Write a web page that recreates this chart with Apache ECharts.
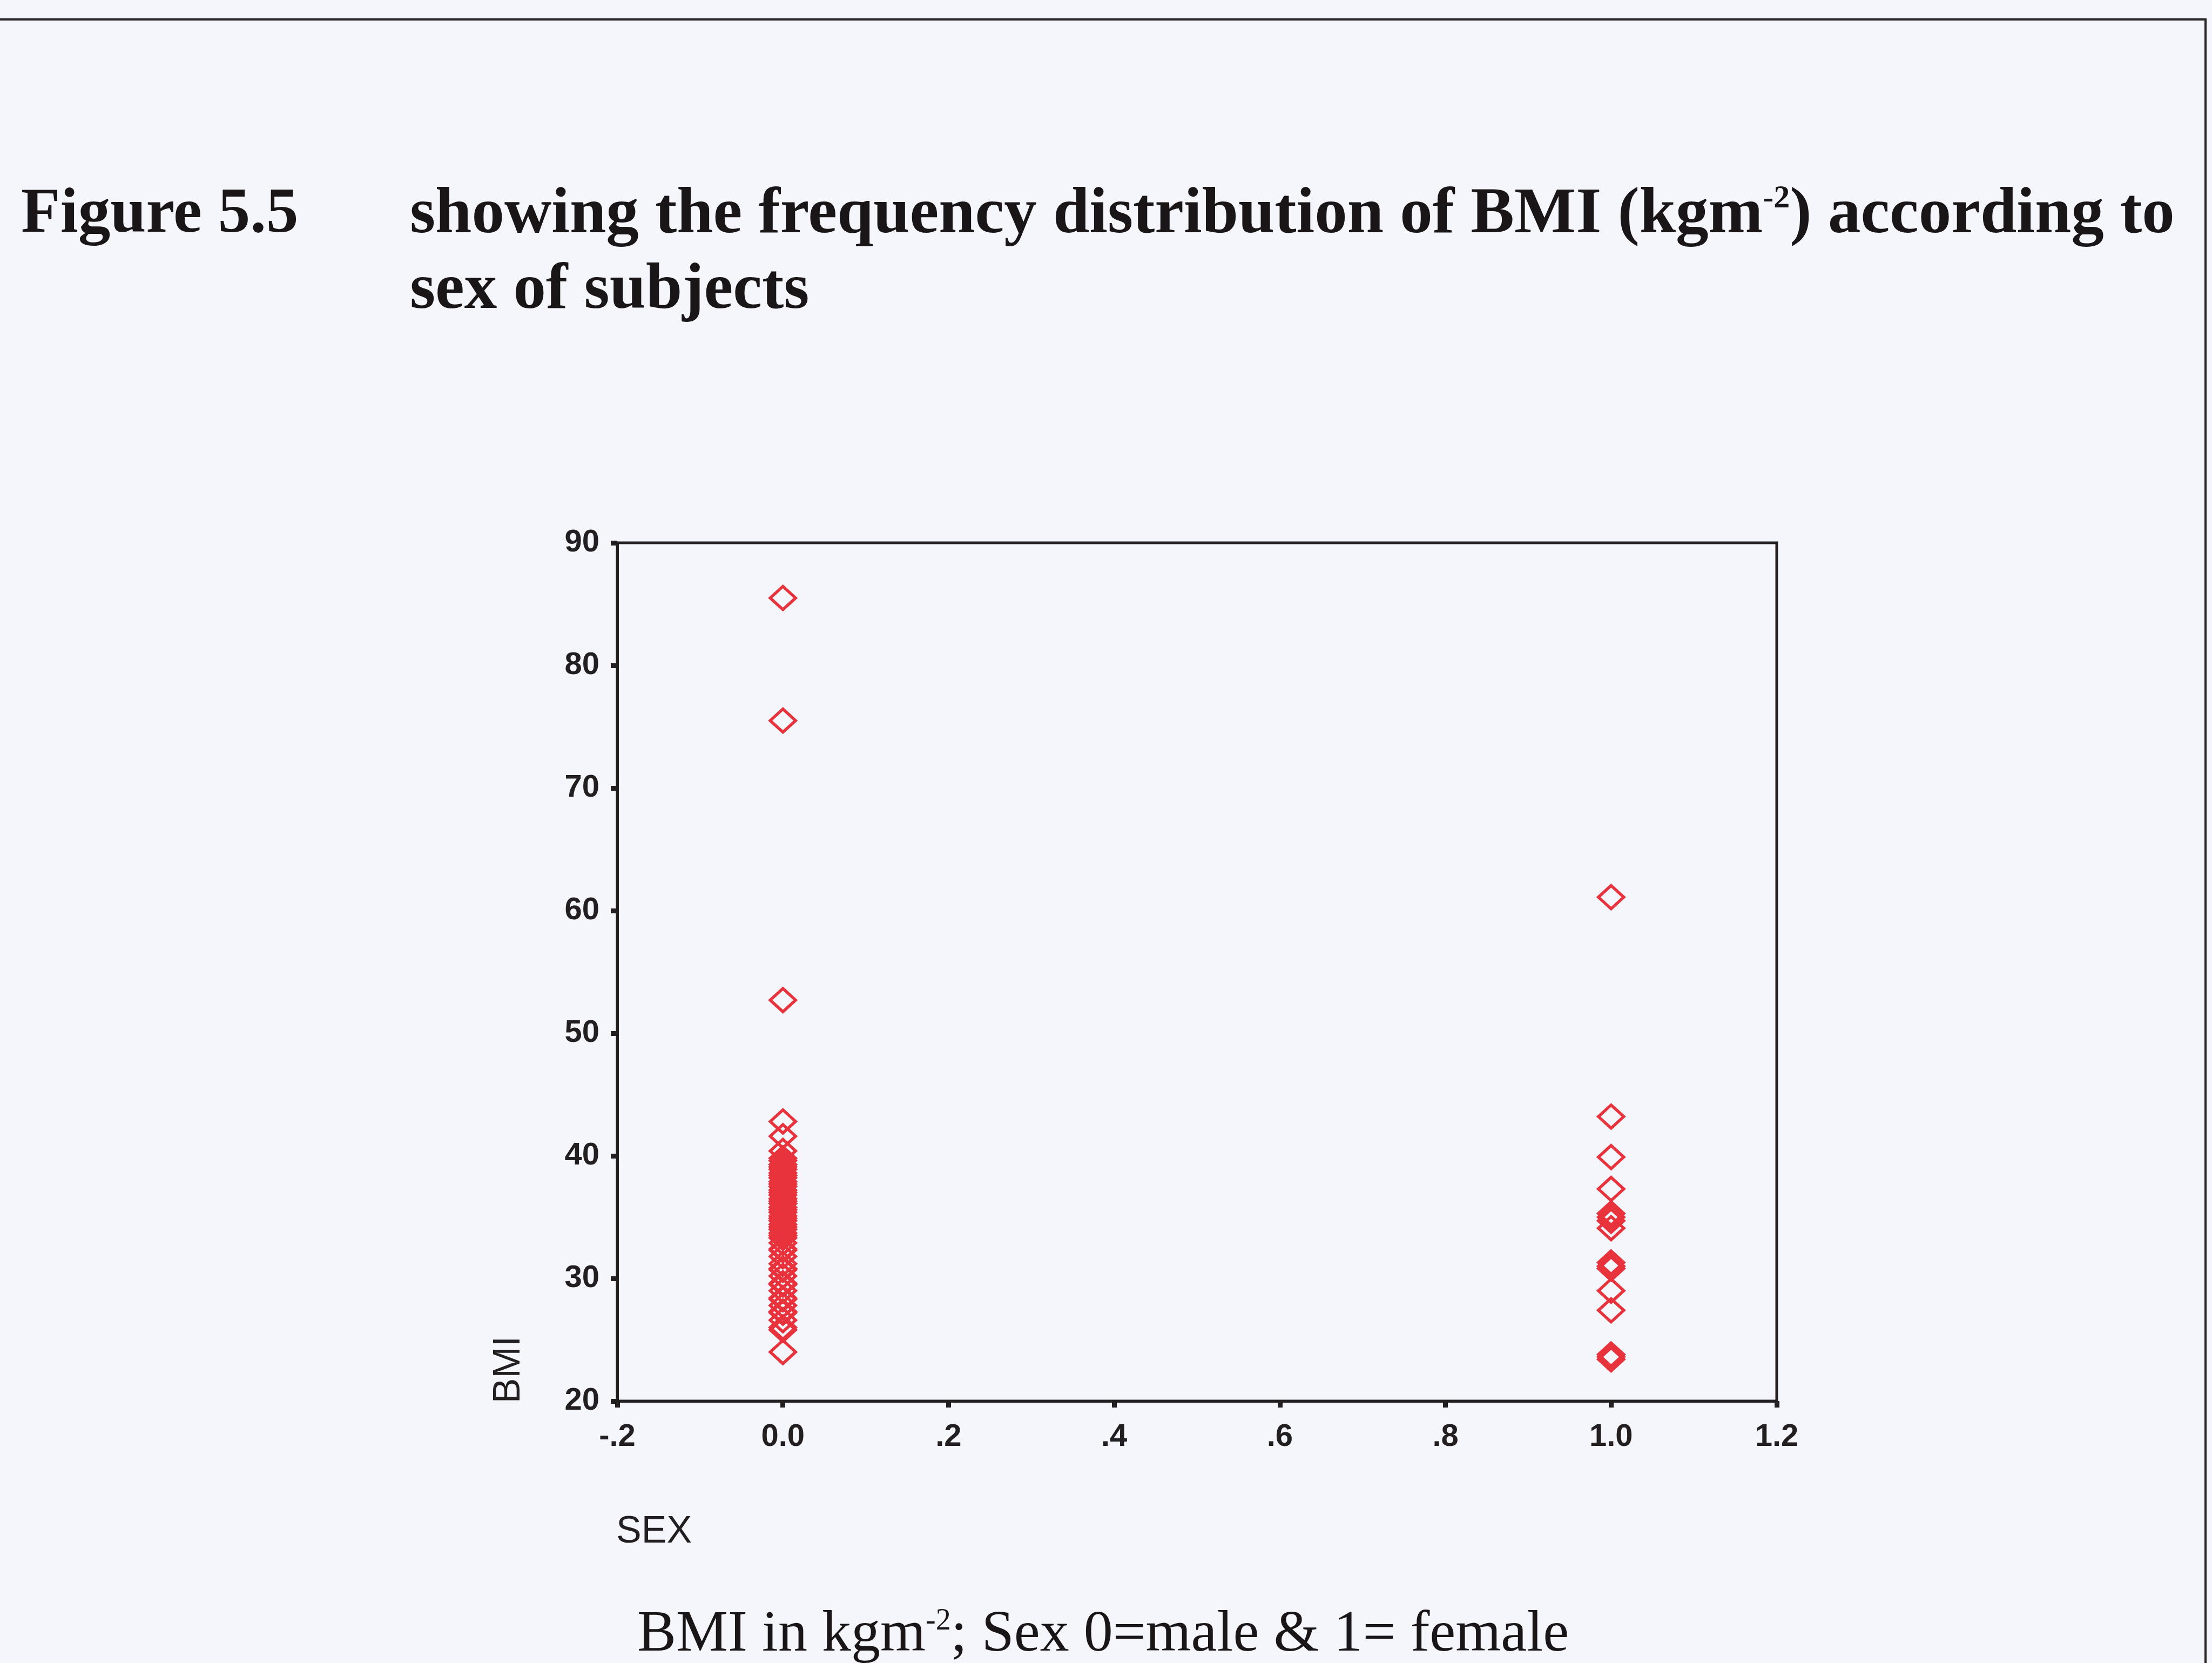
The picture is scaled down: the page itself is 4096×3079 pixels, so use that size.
<!DOCTYPE html>
<html>
<head>
<meta charset="utf-8">
<script src="https://cdn.jsdelivr.net/npm/echarts@6/dist/echarts.min.js"></script>
<style>
  html, body { margin: 0; padding: 0; background: #f4f6fb; }
  #chart { width: 4096px; height: 3079px; }
</style>
</head>
<body>
<div id="chart"></div>
<script>
// BMI values (kg/m^2) by sex: 0 = male, 1 = female
const sexCodes = [0, 1];
const maleBMI = [85.5, 75.5, 52.7, 42.8, 41.6, 40.4,
  39.8, 39.6, 39.3, 39.1, 38.9, 38.6, 38.4, 38.2, 37.9, 37.7, 37.5, 37.2, 37.0, 36.8,
  36.5, 36.3, 36.1, 35.8, 35.6, 35.4, 35.1, 34.9, 34.7, 34.4, 34.2, 34.0, 33.7, 33.5,
  33.3, 32.9, 32.4, 32.3, 31.8, 31.2, 30.8, 30.7, 30.2, 29.6, 29.5, 29.0, 28.4, 28.3,
  27.8, 27.3, 27.2, 26.6, 26.0, 25.8, 24.0];
const femaleBMI = [61.1, 43.2, 39.9, 37.3, 35.3, 35.0, 34.7, 34.1, 31.3, 31.0, 30.8,
  29.0, 27.4, 23.8, 23.6, 23.4];

// axis ticks
const xTickLabels = ['-.2', '0.0', '.2', '.4', '.6', '.8', '1.0', '1.2'];
const xMin = -0.2, xMax = 1.2, xStep = 0.2;
const yMin = 20, yMax = 90, yStep = 10;

const INK = '#231f20';
const RED = '#e8333d';
const SERIF = '"Liberation Serif", "Times New Roman", serif';
const SANS = '"Liberation Sans", Arial, sans-serif';

const pairs = (code, values) => values.map(v => [code, v]);

const chart = echarts.init(document.getElementById('chart'), null, { renderer: 'canvas' });

const markerStyle = {
  type: 'scatter',
  symbol: 'diamond',
  symbolSize: [47, 43],
  clip: false,
  itemStyle: { color: 'rgba(0,0,0,0)', borderColor: RED, borderWidth: 5.5, opacity: 1 },
  emphasis: { disabled: true }
};

const axisCommon = {
  type: 'value',
  axisLine: { show: true, onZero: false, lineStyle: { color: INK, width: 5 } },
  axisTick: { show: true, inside: false, length: 12, lineStyle: { color: INK, width: 9 } },
  splitLine: { show: false }
};

chart.setOption({
  animation: false,
  backgroundColor: '#f4f6fb',
  grid: {
    left: 1143, top: 1005, width: 2147, height: 1589,
    show: true, borderColor: INK, borderWidth: 5, backgroundColor: 'transparent'
  },
  xAxis: Object.assign({}, axisCommon, {
    min: xMin, max: xMax, interval: xStep,
    axisLabel: {
      margin: 38, color: INK, fontFamily: SANS, fontWeight: 'bold', fontSize: 58,
      formatter: v => xTickLabels[Math.round((v - xMin) / xStep)]
    }
  }),
  yAxis: Object.assign({}, axisCommon, {
    min: yMin, max: yMax, interval: yStep,
    axisLabel: { margin: 33, color: INK, fontFamily: SANS, fontWeight: 'bold', fontSize: 58 }
  }),
  series: [
    Object.assign({ name: 'male', data: pairs(sexCodes[0], maleBMI) }, markerStyle),
    Object.assign({ name: 'female', data: pairs(sexCodes[1], femaleBMI) }, markerStyle)
  ],
  graphic: [
    // page frame
    { type: 'line', shape: { x1: 0, y1: 36, x2: 4086, y2: 36 }, style: { stroke: '#2b2628', lineWidth: 4 } },
    { type: 'line', shape: { x1: 4084, y1: 34, x2: 4084, y2: 3079 }, style: { stroke: '#2b2628', lineWidth: 4 } },
    // heading
    { type: 'text', x: 39, y: 339, style: {
        text: 'Figure 5.5', fill: '#1a1517', fontFamily: SERIF, fontWeight: 'bold',
        fontSize: 119, lineHeight: 119, verticalAlign: 'top' } },
    { type: 'text', x: 759, y: 338, style: {
        text: 'showing the frequency distribution of BMI (kgm{sup|-2}) according to',
        fill: '#1a1517', fontFamily: SERIF, fontWeight: 'bold',
        fontSize: 121, lineHeight: 121, verticalAlign: 'top',
        rich: { sup: { fontFamily: SERIF, fontWeight: 'bold', fontSize: 60, lineHeight: 60, verticalAlign: 'top', fill: '#1a1517' } } } },
    { type: 'text', x: 759, y: 478, style: {
        text: 'sex of subjects', fill: '#1a1517', fontFamily: SERIF, fontWeight: 'bold',
        fontSize: 121, lineHeight: 121, verticalAlign: 'top' } },
    // axis titles
    { type: 'text', x: 943, y: 2536, rotation: Math.PI / 2, style: {
        text: 'BMI', fill: INK, fontFamily: SANS, fontSize: 70, align: 'center', verticalAlign: 'middle' } },
    { type: 'text', x: 1141, y: 2837, style: {
        text: 'SEX', fill: INK, fontFamily: SANS, fontSize: 70, align: 'left', verticalAlign: 'middle' } },
    // note under the chart
    { type: 'text', x: 1180, y: 2974, style: {
        text: 'BMI in kgm{sup|-2}; Sex 0=male & 1= female', fill: '#1a1517', fontFamily: SERIF,
        fontSize: 108, lineHeight: 108, verticalAlign: 'top',
        rich: { sup: { fontFamily: SERIF, fontSize: 56, lineHeight: 56, verticalAlign: 'top', fill: '#1a1517' } } } }
  ]
});
</script>
</body>
</html>
